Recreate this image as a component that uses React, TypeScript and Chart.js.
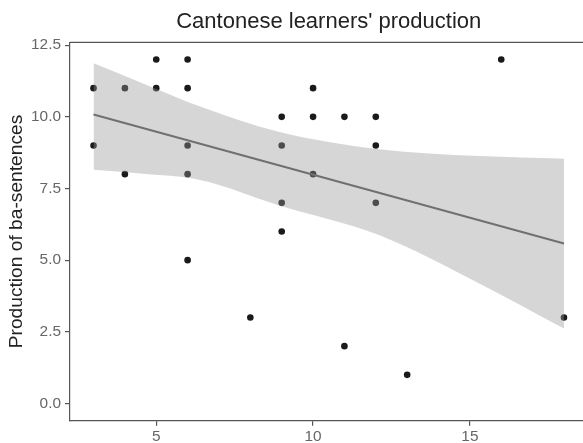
import React, { useEffect, useRef } from "react";
import { Chart, registerables } from "chart.js";

Chart.register(...registerables);

// Learner observations: score on the x axis, number of ba-sentences produced on y
const learnerScores = [3, 3, 4, 4, 5, 5, 6, 6, 6, 6, 6, 8, 9, 9, 9, 9, 10, 10, 10, 11, 11, 12, 12, 12, 13, 16, 18];
const baProduction = [11, 9, 11, 8, 12, 11, 12, 11, 9, 8, 5, 3, 10, 9, 7, 6, 11, 10, 8, 10, 2, 10, 9, 7, 1, 12, 3];

// Fitted linear trend (end points)
const fitX = [3, 18];
const fitY = [10.08, 5.58];

// Confidence band around the trend
const bandX = [3, 4.5, 6.4, 8.9, 12.1, 15.3, 18];
const bandUpper = [11.87, 11.2, 10.36, 9.48, 8.87, 8.63, 8.54];
const bandLower = [8.15, 8.02, 7.8, 6.92, 5.88, 4.19, 2.62];

const xTicks = [5, 10, 15];
const yTicks = [0, 2.5, 5, 7.5, 10, 12.5];

const FONT = "'Liberation Sans', Arial, Helvetica, sans-serif";
const AXIS = "#555555";

const toXY = (xs: number[], ys: number[]) => xs.map((x, i) => ({ x, y: ys[i] }));

export default function App() {
  const canvasRef = useRef<HTMLCanvasElement>(null);

  useEffect(() => {
    if (!canvasRef.current) return;

    const panelTop = {
      id: "panelTop",
      afterDatasetsDraw(chart: any) {
        const { ctx, chartArea } = chart;
        ctx.save();
        ctx.strokeStyle = AXIS;
        ctx.lineWidth = 1.2;
        ctx.beginPath();
        ctx.moveTo(chartArea.left, chartArea.top);
        ctx.lineTo(chartArea.right, chartArea.top);
        ctx.stroke();
        ctx.restore();
      },
    };

    const chart = new Chart(canvasRef.current, {
      type: "scatter",
      data: {
        datasets: [
          {
            type: "line",
            label: "fit",
            data: toXY(fitX, fitY),
            borderColor: "#707070",
            borderWidth: 2,
            pointRadius: 0,
            fill: false,
            order: 0,
          },
          {
            type: "line",
            label: "upper",
            data: toXY(bandX, bandUpper),
            borderWidth: 0,
            borderColor: "rgba(0,0,0,0)",
            backgroundColor: "rgba(153,153,153,0.4)",
            pointRadius: 0,
            cubicInterpolationMode: "monotone",
            fill: "+1",
            order: 1,
          },
          {
            type: "line",
            label: "lower",
            data: toXY(bandX, bandLower),
            borderWidth: 0,
            borderColor: "rgba(0,0,0,0)",
            pointRadius: 0,
            cubicInterpolationMode: "monotone",
            fill: false,
            order: 2,
          },
          {
            type: "scatter",
            label: "learners",
            data: toXY(learnerScores, baProduction),
            backgroundColor: "#1a1a1a",
            borderWidth: 0,
            pointRadius: 3.3,
            order: 3,
          },
        ],
      } as any,
      options: {
        responsive: false,
        animation: false,
        devicePixelRatio: 1,
        events: [],
        layout: { padding: { left: 0, right: 12.5, top: 0, bottom: 0 } },
        plugins: {
          legend: { display: false },
          tooltip: { enabled: false },
          title: {
            display: true,
            text: "Cantonese learners' production",
            fullSize: false,
            color: "#222222",
            font: { family: FONT, size: 22, weight: "normal" },
            padding: { top: 8.3, bottom: 7.6 },
          },
        },
        scales: {
          x: {
            type: "linear",
            min: 2.25,
            max: 18.75,
            afterBuildTicks: (scale: any) => {
              scale.ticks = xTicks.map((v) => ({ value: v }));
            },
            afterFit: (scale: any) => {
              scale.height = 22.3;
            },
            grid: {
              display: true,
              drawOnChartArea: false,
              drawTicks: true,
              tickLength: 5,
              color: AXIS,
              lineWidth: 1.2,
            },
            border: { display: true, color: AXIS, width: 1.2 },
            ticks: {
              color: "#666666",
              padding: 2,
              maxRotation: 0,
              font: { family: FONT, size: 15.4 },
            },
          },
          y: {
            type: "linear",
            min: -0.6,
            max: 12.6,
            afterBuildTicks: (scale: any) => {
              scale.ticks = yTicks.map((v) => ({ value: v }));
            },
            afterFit: (scale: any) => {
              scale.width = 70;
            },
            grid: {
              display: true,
              drawOnChartArea: false,
              drawTicks: true,
              tickLength: 5,
              color: AXIS,
              lineWidth: 1.2,
            },
            border: { display: true, color: AXIS, width: 1.2 },
            ticks: {
              color: "#666666",
              padding: 4,
              font: { family: FONT, size: 15.4 },
              callback: (v: any) => Number(v).toFixed(1),
            },
            title: {
              display: true,
              text: "Production of ba-sentences",
              color: "#222222",
              font: { family: FONT, size: 19.2 },
              padding: { top: 5.5, bottom: 0 },
            },
          },
        },
      } as any,
      plugins: [panelTop],
    });

    return () => chart.destroy();
  }, []);

  return (
    <div
      style={{
        position: "fixed",
        left: 0,
        top: 0,
        width: 600,
        height: 443,
        background: "#ffffff",
      }}
    >
      <canvas ref={canvasRef} width={600} height={443} style={{ display: "block" }} />
    </div>
  );
}
